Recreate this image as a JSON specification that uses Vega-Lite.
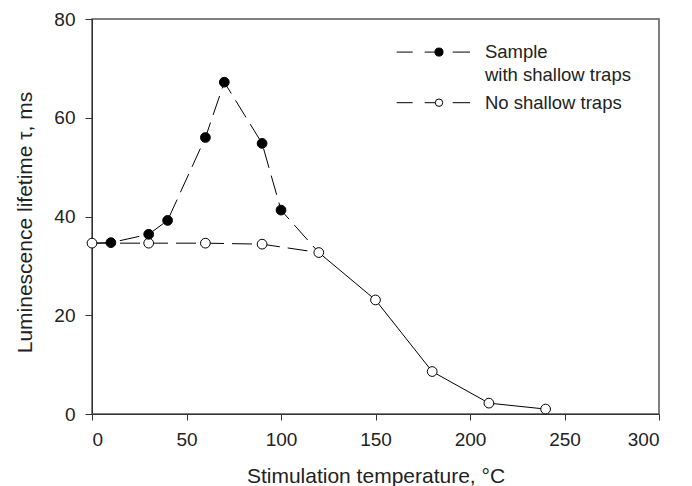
{
  "$schema": "https://vega.github.io/schema/vega-lite/v6.json",
  "width": 567,
  "height": 395,
  "autosize": {"type": "none"},
  "padding": {"left": 92, "top": 19, "right": 33, "bottom": 72},
  "background": "white",
  "config": {
    "view": {"stroke": "#555", "strokeWidth": 1.5},
    "font": "Liberation Sans",
    "axis": {
      "grid": false,
      "domainColor": "#333",
      "domainWidth": 1,
      "tickColor": "#333",
      "labelFontSize": 19,
      "labelColor": "#222",
      "titleFontSize": 21,
      "titleFontWeight": "normal",
      "titleColor": "#222"
    }
  },
  "datasets": {
    "filled": [
      {"t": 0, "v": 34.6},
      {"t": 10, "v": 34.7},
      {"t": 30, "v": 36.4},
      {"t": 40, "v": 39.2},
      {"t": 60, "v": 56.0},
      {"t": 70, "v": 67.2},
      {"t": 90, "v": 54.8},
      {"t": 100, "v": 41.3},
      {"t": 120, "v": 32.7}
    ],
    "open": [
      {"t": 0, "v": 34.6},
      {"t": 30, "v": 34.6},
      {"t": 60, "v": 34.6},
      {"t": 90, "v": 34.4},
      {"t": 120, "v": 32.7},
      {"t": 150, "v": 23.1},
      {"t": 180, "v": 8.6},
      {"t": 210, "v": 2.2},
      {"t": 240, "v": 1.0}
    ],
    "legendLines": [
      {"series": "filled", "t": 161.2, "t2": 200, "tm": 183.6, "v": 73.3},
      {"series": "open", "t": 161.2, "t2": 200, "tm": 183.6, "v": 63.05}
    ],
    "legendText": [
      {"label": "Sample", "t": 207.9, "v": 73.3},
      {"label": "with shallow traps", "t": 207.9, "v": 68.65},
      {"label": "No shallow traps", "t": 207.9, "v": 63.05}
    ]
  },
  "encoding": {
    "x": {
      "field": "t",
      "type": "quantitative",
      "scale": {"domain": [0, 300], "nice": false, "zero": false},
      "axis": {
        "values": [0, 50, 100, 150, 200, 250, 300],
        "title": "Stimulation temperature, °C",
        "tickSize": 6,
        "labelPadding": 10,
        "titleY": 68,
        "titleBaseline": "alphabetic"
      }
    },
    "y": {
      "field": "v",
      "type": "quantitative",
      "scale": {"domain": [0, 80], "nice": false, "zero": false},
      "axis": {
        "values": [0, 20, 40, 60, 80],
        "title": "Luminescence lifetime τ, ms",
        "tickSize": 7,
        "labelPadding": 10,
        "titleX": -61,
        "titleY": 203,
        "titleBaseline": "alphabetic"
      }
    }
  },
  "layer": [
    {
      "data": {"name": "filled"},
      "mark": {"type": "line", "color": "black", "strokeWidth": 1, "strokeDash": [20, 8]}
    },
    {
      "data": {"name": "open"},
      "transform": [{"filter": "datum.t <= 120"}],
      "mark": {"type": "line", "color": "black", "strokeWidth": 1, "strokeDash": [20, 8]}
    },
    {
      "data": {"name": "open"},
      "transform": [{"filter": "datum.t >= 120"}],
      "mark": {"type": "line", "color": "black", "strokeWidth": 1}
    },
    {
      "data": {"name": "open"},
      "mark": {"type": "point", "shape": "circle", "filled": true, "fill": "white", "stroke": "black", "strokeWidth": 1, "size": 95, "opacity": 1}
    },
    {
      "data": {"name": "filled"},
      "transform": [{"filter": "datum.t >= 10 && datum.t <= 100"}],
      "mark": {"type": "point", "shape": "circle", "filled": true, "fill": "black", "stroke": "black", "strokeWidth": 1, "size": 95, "opacity": 1}
    },
    {
      "data": {"name": "legendLines"},
      "mark": {"type": "rule", "color": "black", "strokeWidth": 1, "strokeDash": [16, 12, 14, 14, 20]},
      "encoding": {"x2": {"field": "t2"}}
    },
    {
      "data": {"name": "legendLines"},
      "transform": [{"filter": "datum.series == 'filled'"}],
      "mark": {"type": "point", "shape": "circle", "filled": true, "fill": "black", "stroke": "black", "strokeWidth": 1, "size": 65, "opacity": 1},
      "encoding": {"x": {"field": "tm", "type": "quantitative"}}
    },
    {
      "data": {"name": "legendLines"},
      "transform": [{"filter": "datum.series == 'open'"}],
      "mark": {"type": "point", "shape": "circle", "filled": true, "fill": "white", "stroke": "black", "strokeWidth": 1, "size": 55, "opacity": 1},
      "encoding": {"x": {"field": "tm", "type": "quantitative"}}
    },
    {
      "data": {"name": "legendText"},
      "mark": {"type": "text", "align": "left", "baseline": "middle", "fontSize": 18.5, "color": "#222"},
      "encoding": {"text": {"field": "label"}}
    }
  ]
}
